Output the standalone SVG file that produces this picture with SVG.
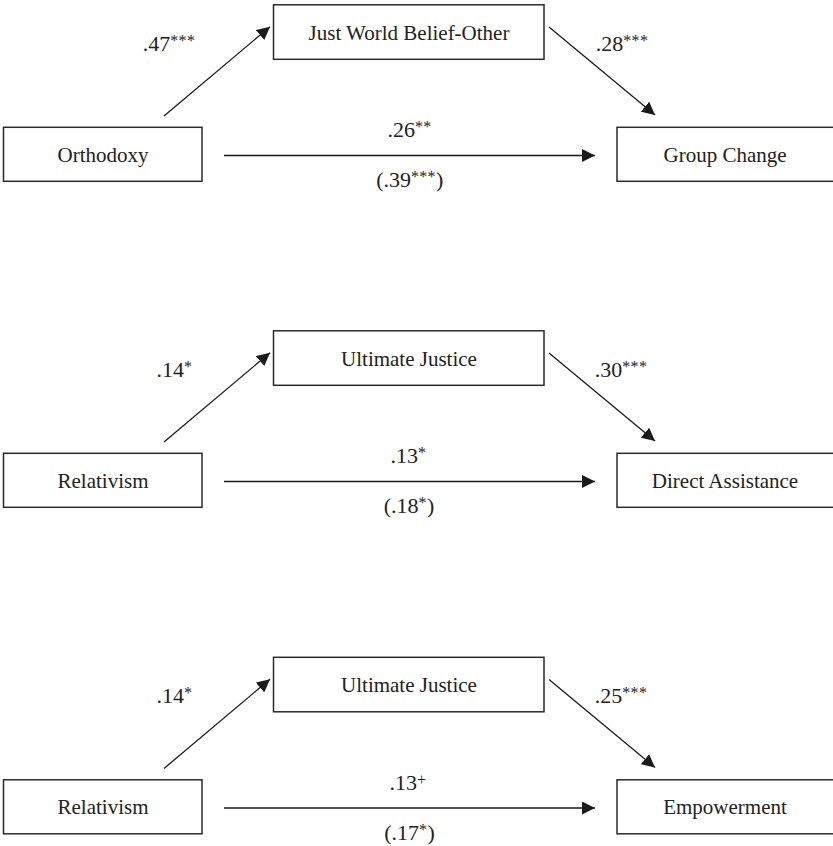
<svg xmlns="http://www.w3.org/2000/svg" width="833" height="846" viewBox="0 0 833 846">
<defs>
<style>
.box{fill:#fff;stroke:#2a2a2a;stroke-width:1.5}
.edge{stroke:#1a1a1a;stroke-width:1.3;fill:none;marker-end:url(#ah)}
.h{stroke-width:1.6}
.nt{font-family:"Liberation Serif","Times New Roman",serif;font-size:21px;fill:#222;text-anchor:middle}
.lb{font-family:"Liberation Serif","Times New Roman",serif;font-size:22px;fill:#222;text-anchor:middle}
.st{font-size:16px;letter-spacing:0.3px}
</style>
<marker id="ah" markerUnits="userSpaceOnUse" markerWidth="13" markerHeight="13" refX="13" refY="6.5" orient="auto">
<path d="M0,0 L13,6.5 L0,13 z" fill="#1a1a1a"/>
</marker>
</defs>
<rect width="833" height="846" fill="#fff"/>

<!-- Panel 1 -->
<g id="panel1">
<g id="p1-connectors">
<line class="edge" x1="164" y1="116" x2="270" y2="26.7"/>
<line class="edge" x1="549" y1="27" x2="655" y2="115"/>
<line class="edge h" x1="224" y1="155.5" x2="595" y2="155.5"/>
<text class="lb" x="169" y="50.7">.47<tspan class="st" dy="-5">***</tspan></text>
<text class="lb" x="622" y="50.7">.28<tspan class="st" dy="-5">***</tspan></text>
<text class="lb" x="409.5" y="137">.26<tspan class="st" dy="-5">**</tspan></text>
<text class="lb" x="409.7" y="187">(.39<tspan class="st" dy="-5">***</tspan><tspan dy="5">)</tspan></text>
</g>
<g id="p1-jwb"><rect class="box" x="273.5" y="4.8" width="270.5" height="54.5"/><text class="nt" x="409" y="39.5">Just World Belief-Other</text></g>
<g id="p1-orthodoxy"><rect class="box" x="3.5" y="127.3" width="198.5" height="54"/><text class="nt" x="103" y="161.5">Orthodoxy</text></g>
<g id="p1-groupchange"><rect class="box" x="617" y="127.3" width="220" height="54"/><text class="nt" x="725" y="161.5">Group Change</text></g>
</g>

<!-- Panel 2 -->
<g id="panel2" transform="translate(0,326)">
<g id="p2-connectors">
<line class="edge" x1="164" y1="116" x2="270" y2="26.7"/>
<line class="edge" x1="549" y1="27" x2="655" y2="115"/>
<line class="edge h" x1="224" y1="155.5" x2="595" y2="155.5"/>
<text class="lb" x="174.5" y="50.7">.14<tspan class="st" dy="-5">*</tspan></text>
<text class="lb" x="621" y="50.7">.30<tspan class="st" dy="-5">***</tspan></text>
<text class="lb" x="408.5" y="137">.13<tspan class="st" dy="-5">*</tspan></text>
<text class="lb" x="409" y="187">(.18<tspan class="st" dy="-5">*</tspan><tspan dy="5">)</tspan></text>
</g>
<g id="p2-ultimatejustice"><rect class="box" x="273.5" y="4.8" width="270.5" height="54.5"/><text class="nt" x="409" y="39.5">Ultimate Justice</text></g>
<g id="p2-relativism"><rect class="box" x="3.5" y="127.3" width="198.5" height="54"/><text class="nt" x="103" y="161.5">Relativism</text></g>
<g id="p2-directassistance"><rect class="box" x="617" y="127.3" width="220" height="54"/><text class="nt" x="725" y="161.5">Direct Assistance</text></g>
</g>

<!-- Panel 3 -->
<g id="panel3" transform="translate(0,652.5)">
<g id="p3-connectors">
<line class="edge" x1="164" y1="116" x2="270" y2="26.7"/>
<line class="edge" x1="549" y1="27" x2="655" y2="115"/>
<line class="edge h" x1="224" y1="155.5" x2="595" y2="155.5"/>
<text class="lb" x="174.5" y="50.7">.14<tspan class="st" dy="-5">*</tspan></text>
<text class="lb" x="621" y="50.7">.25<tspan class="st" dy="-5">***</tspan></text>
<text class="lb" x="408" y="137">.13<tspan class="st" dy="-5">+</tspan></text>
<text class="lb" x="409.5" y="187">(.17<tspan class="st" dy="-5">*</tspan><tspan dy="5">)</tspan></text>
</g>
<g id="p3-ultimatejustice"><rect class="box" x="273.5" y="4.8" width="270.5" height="54.5"/><text class="nt" x="409" y="39.5">Ultimate Justice</text></g>
<g id="p3-relativism"><rect class="box" x="3.5" y="127.3" width="198.5" height="54"/><text class="nt" x="103" y="161.5">Relativism</text></g>
<g id="p3-empowerment"><rect class="box" x="617" y="127.3" width="220" height="54"/><text class="nt" x="725" y="161.5">Empowerment</text></g>
</g>
</svg>
